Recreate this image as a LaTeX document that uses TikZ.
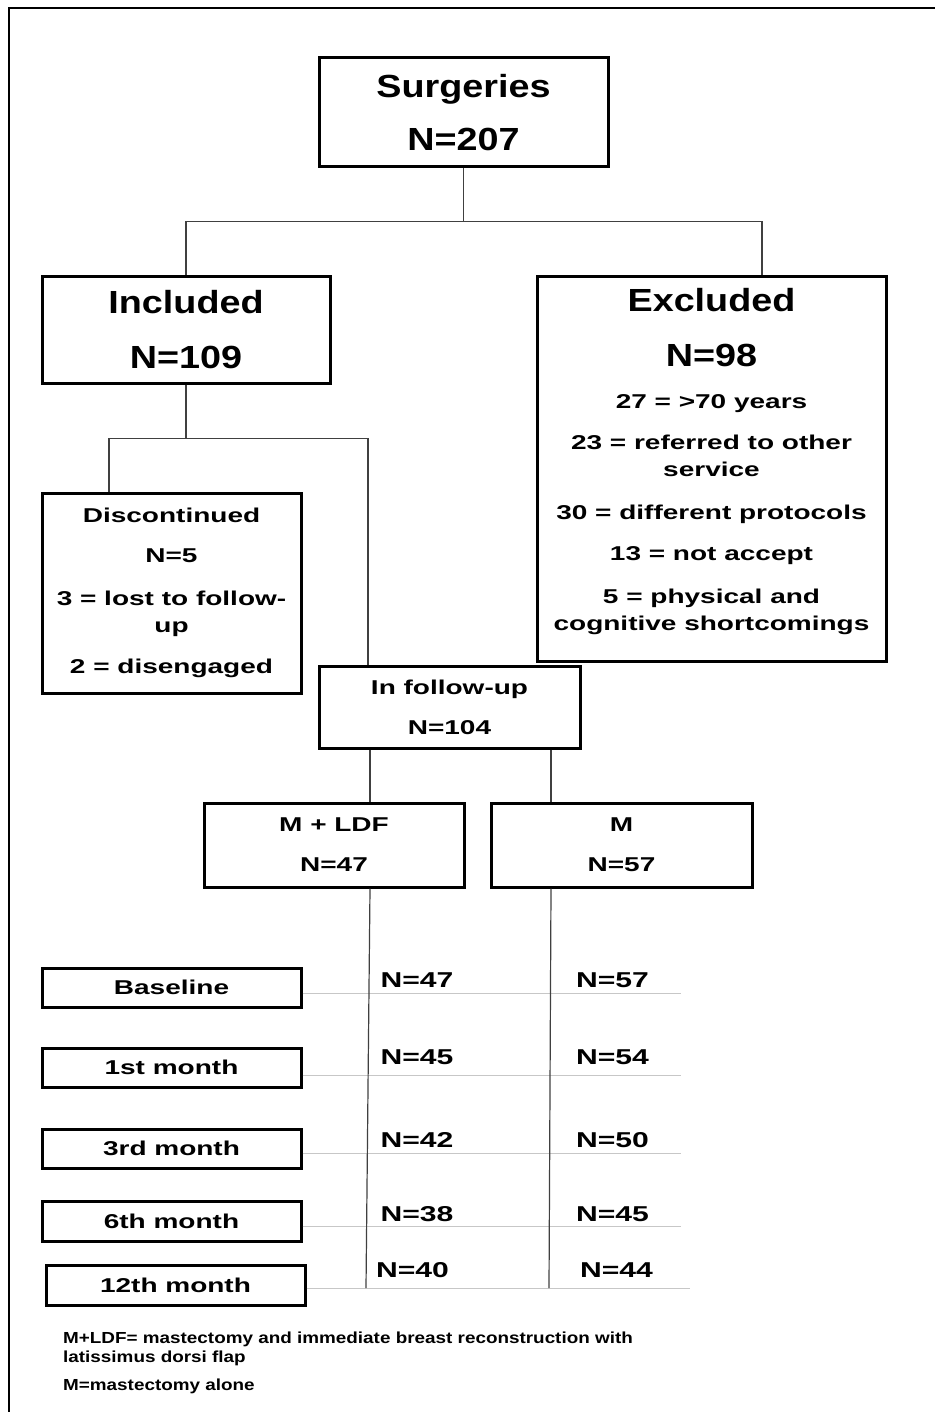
\documentclass[tikz,border=0pt]{standalone}
\usepackage{fontspec}
\setmainfont{Liberation Sans}
\newfontfamily\bigfont[FakeStretch=1.18]{Liberation Sans}
\newfontfamily\widefont[FakeStretch=1.4]{Liberation Sans}
\usepackage{tikz}
\usetikzlibrary{calc}
\tikzstyle{block} = [draw, rectangle, line width=3pt,
    align=center, inner sep=0pt]
\tikzstyle{bigtext} = [font=\bigfont\bfseries\fontsize{32}{38}\selectfont]
\tikzstyle{midtext} = [font=\widefont\bfseries\fontsize{20}{27}\selectfont]
\tikzstyle{count} = [font=\widefont\bfseries\fontsize{21.5}{27}\selectfont, inner sep=0pt]
\tikzstyle{link} = [line width=1.2pt, black!75]
\tikzstyle{rowline} = [line width=1pt, black!22]
\tikzstyle{note} = [font=\bigfont\bfseries\fontsize{16}{19}\selectfont,
    align=left, anchor=north west, inner sep=0pt]

\begin{document}
\begin{tikzpicture}[x=1pt, y=-1pt]
            \useasboundingbox (0,0) rectangle (935,1412);
            \draw[line width=2.8pt] (9,1412) -- (9,8) -- (935,8);

            \node[block, bigtext, minimum width=289pt, minimum height=109pt, name=surg] at (463.5,112.5) {Surgeries\\[15pt]N=207};
            \node[block, bigtext, minimum width=288pt, minimum height=106pt, name=incl] at (186,330) {Included\\[17pt]N=109};
            \node[block, midtext, minimum width=349pt, minimum height=384pt, name=excl] at (711.5,469) {{\bigfont\fontsize{32}{38}\selectfont Excluded}\\[28pt]{\bigfont\fontsize{32}{38}\selectfont N=98}\\[15.5pt]27 = >70 years\\[14pt]23 = referred to other\\service\\[16pt]30 = different protocols\\[14pt]13 = not accept\\[16pt]5 = physical and\\cognitive shortcomings\rule[-19pt]{0pt}{0pt}};
            \node[block, midtext, minimum width=259pt, minimum height=200pt, name=disc] at (171.5,593) {Discontinued\\[13pt]N=5\\[16pt]3 = lost to follow-\\up\\[14pt]2 = disengaged};
            \node[block, midtext, minimum width=261pt, minimum height=82pt, name=fup] at (449.5,707) {In follow-up\\[13pt]N=104};
            \node[block, midtext, minimum width=260pt, minimum height=84pt, name=ldf] at (334,845) {M + LDF\\[13pt]N=47};
            \node[block, midtext, minimum width=261pt, minimum height=84pt, name=mast] at (621.5,845) {M\\[13pt]N=57};

            \node[block, midtext, minimum width=259pt, minimum height=39pt, name=base] at (171.5,987.5) {Baseline};
            \node[block, midtext, minimum width=259pt, minimum height=39pt, name=m1] at (171.5,1067.5) {1st month};
            \node[block, midtext, minimum width=259pt, minimum height=39pt, name=m3] at (171.5,1148.5) {3rd month};
            \node[block, midtext, minimum width=259pt, minimum height=40pt, name=m6] at (171.5,1221) {6th month};
            \node[block, midtext, minimum width=259pt, minimum height=40pt, name=m12] at (175.5,1285) {12th month};

            \draw[link] (surg.south) -- ++(0,53) -| (incl.north);
            \draw[link] (surg.south) -- ++(0,53) -| ([xshift=50.5pt]excl.north);
            \draw[link] (incl.south) -- ++(0,54) -| ([xshift=-62.5pt]disc.north);
            \draw[link] (incl.south) -- ++(0,54) -| ([xshift=-81.5pt]fup.north);
            \draw[link] ([xshift=-79.5pt]fup.south) -- ([xshift=36pt]ldf.north);
            \draw[link] ([xshift=101.5pt]fup.south) -- ([xshift=-70.5pt]mast.north);

            \coordinate (base_end) at (681,993);
            \coordinate (m1_end) at (681,1075);
            \coordinate (m3_end) at (681,1153);
            \coordinate (m6_end) at (681,1226);
            \coordinate (m12_end) at (690,1288);
            \draw[rowline] (base.east |- base_end) -- (base_end);
            \draw[rowline] (m1.east |- m1_end) -- (m1_end);
            \draw[rowline] (m3.east |- m3_end) -- (m3_end);
            \draw[rowline] (m6.east |- m6_end) -- (m6_end);
            \draw[rowline] (m12.east |- m12_end) -- (m12_end);

            \coordinate (ldf_end) at (366,1288);
            \coordinate (mast_end) at (549,1288);
            \draw[link] ([xshift=36pt]ldf.south) -- (ldf_end);
            \draw[link] ([xshift=-70.5pt]mast.south) -- (mast_end);

            \node[count, name=ldf_base] at (417,980) {N=47};
            \node[count, name=mast_base] at (612.5,980) {N=57};
            \node[count, name=ldf_m1] at (417,1057) {N=45};
            \node[count, name=mast_m1] at (612.5,1057) {N=54};
            \node[count, name=ldf_m3] at (417,1140) {N=42};
            \node[count, name=mast_m3] at (612.5,1140) {N=50};
            \node[count, name=ldf_m6] at (417,1214) {N=38};
            \node[count, name=mast_m6] at (612.5,1214) {N=45};
            \node[count, name=ldf_m12] at (412.5,1270) {N=40};
            \node[count, name=mast_m12] at (616.5,1270) {N=44};

            \node[note, name=note_ldf] at (63,1332) {M+LDF= mastectomy and immediate breast reconstruction with\\latissimus dorsi flap};
            \node[note, name=note_m] at (63,1379) {M=mastectomy alone};
        \end{tikzpicture}
\end{document}
